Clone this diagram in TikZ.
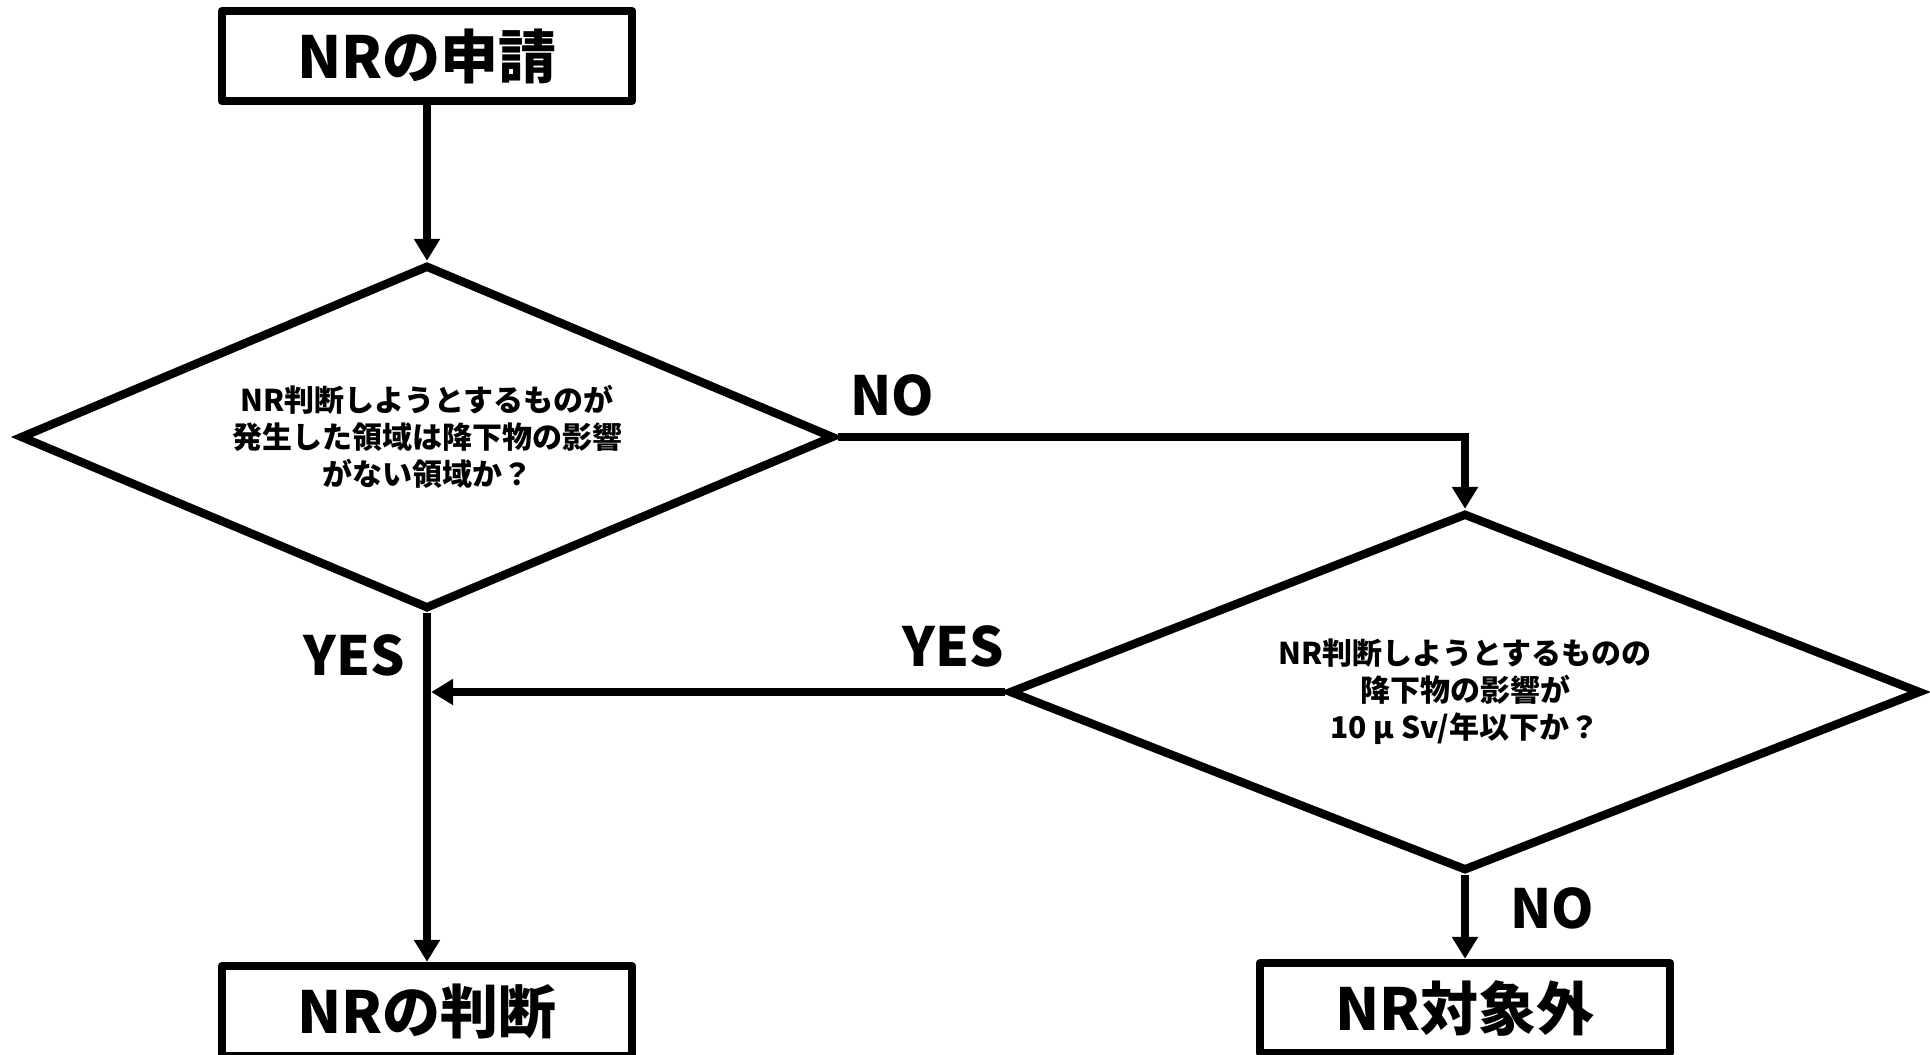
\documentclass[tikz,border=0pt]{standalone}
\usepackage{fontspec}
\setmainfont{Noto Sans CJK JP}
\usetikzlibrary{shapes.geometric,arrows.meta,positioning}

\begin{document}
\begin{tikzpicture}
                [x=0.5pt,y=-0.5pt,>={Triangle[length=11pt,width=12.5pt]},line width=4.2pt,
                box/.style={draw,rectangle,line join=round,minimum width=205pt,minimum height=45pt,inner sep=0pt,font=\fontsize{29pt}{32pt}\selectfont\bfseries},
                decision/.style={draw,diamond,inner sep=0pt,align=center,font=\fontsize{15pt}{18.5pt}\selectfont\bfseries},
                answer/.style={inner sep=0pt,font=\fontsize{27pt}{30pt}\selectfont\bfseries}]

                \path[use as bounding box,clip] (0,0) rectangle (1930,1054); % page cuts the lower boxes

                \node[box] (apply) at (427,56) {NRの申請};
                \node[decision,aspect=2.36,minimum width=407pt,minimum height=172pt] (area) at (427,437)
                    {NR判断しようとするものが\\発生した領域は降下物の影響\\がない領域か？};
                \node[decision,aspect=2.55,minimum width=456pt,minimum height=179pt] (dose) at (1465,692)
                    {NR判断しようとするものの\\降下物の影響が\\10 μ Sv/年以下か？};
                \node[box] (judge) at (427,1011) {NRの判断};
                \node[box] (excluded) at (1465,1008) {NR対象外};

                \draw[->] (apply) -- (area);
                \draw[->] (area.east) -| (dose.north);
                \draw[->] (area.south) -- (judge.north);
                \draw[->,shorten >=2.1pt] (dose.west) -- (dose.west -| area.south);
                \draw[->] (dose.south) -- (excluded.north);

                \node[answer] (areaNo) at (892,395) {NO};
                \node[answer] (areaYes) at (354,655) {YES};
                \node[answer] (doseYes) at (953,646) {YES};
                \node[answer] (doseNo) at (1552,908) {NO};

            \end{tikzpicture}
\end{document}
